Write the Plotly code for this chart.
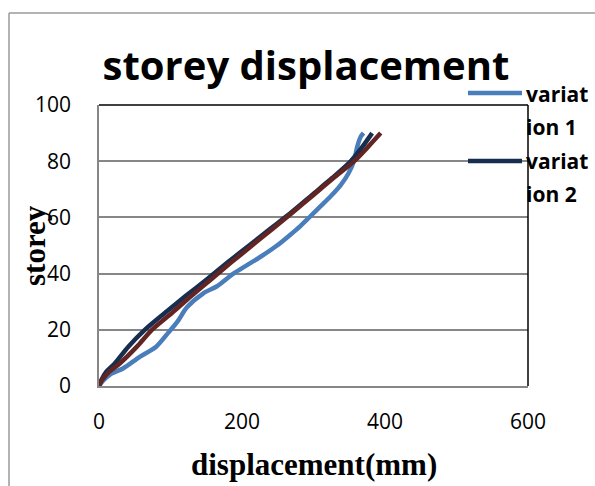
import plotly.graph_objects as go

# ---- data ----
series_names = ["variation 1", "variation 2", "variation 3"]

disp_v1 = [0, 6, 15, 34, 57, 80, 97, 110, 123, 146, 165, 188, 207, 226, 249, 266,
           282, 296, 310, 324, 338, 349, 357, 361, 366, 370]
storey_v1 = [0, 2, 4, 6.3, 10.4, 14, 19, 23, 28, 33, 35.5, 40, 43, 46, 50, 53.5,
             57, 60.5, 64, 67.5, 71.5, 75.7, 80.4, 85, 88.7, 90]

disp_v2 = [0, 3, 10, 22, 41, 64, 92, 121, 151, 180, 210, 240, 270, 298, 326, 352, 368, 382]
storey_v2 = [0, 2, 5, 8, 14, 20, 26, 32, 38, 44, 50, 56, 62, 68, 74, 80, 85, 90]

disp_v3 = [0, 4, 14, 29, 53, 74, 102, 129, 157, 185, 214, 243, 272, 300, 328, 357, 376, 394]
storey_v3 = [0, 2, 5, 8, 14, 20, 26, 32, 38, 44, 50, 56, 62, 68, 74, 80, 85, 90]

x_ticks = [0, 200, 400, 600]
y_ticks = [0, 20, 40, 60, 80, 100]

colors = ["#4A7EBB", "#172E50", "#632523"]

# ---- layout geometry ----
W, H = 595, 486
L, R, T, B = 99, 67, 105, 100
PW, PH = W - L - R, H - T - B


def px(x):
    return (x - L) / PW


def py(y):
    return (H - B - y) / PH


fig = go.Figure()
for xs, ys, c, n in zip([disp_v1, disp_v2, disp_v3],
                        [storey_v1, storey_v2, storey_v3], colors, series_names):
    fig.add_trace(go.Scatter(x=xs, y=ys, mode="lines", name=n, showlegend=False,
                             line=dict(color=c, width=4.5, shape="spline", smoothing=0.8)))

grey = "#868686"
fig.update_layout(
    width=W, height=H,
    margin=dict(l=L, r=R, t=T, b=B, autoexpand=False),
    paper_bgcolor="white", plot_bgcolor="white",
    showlegend=False,
    title=dict(text="<b>storey displacement</b>", x=306 / W, xanchor="center",
               y=1 - 66 / H, yanchor="middle", yref="container",
               font=dict(family="Open Sans", size=40, color="black")),
    xaxis=dict(range=[0, 600], tickvals=x_ticks, showgrid=False, zeroline=False,
               showline=True, linecolor=grey, linewidth=1.5, ticks="",
               ticklabelstandoff=16,
               tickfont=dict(family="Open Sans", size=21, color="black")),
    yaxis=dict(range=[0, 100], tickvals=y_ticks, showgrid=True, gridcolor=grey,
               gridwidth=1.5, zeroline=False, showline=True, linecolor=grey,
               linewidth=1.5, ticks="", ticklabelstandoff=22,
               tickfont=dict(family="Open Sans", size=21, color="black")),
)

shapes = [
    # plot-area border (top, right)
    dict(type="line", xref="paper", yref="paper", x0=0, x1=1, y0=1, y1=1,
         line=dict(color="black", width=1.5)),
    dict(type="line", xref="paper", yref="paper", x0=1, x1=1, y0=0, y1=1,
         line=dict(color="black", width=1.5)),
    # chart-area border
    dict(type="line", xref="paper", yref="paper", x0=px(9), x1=px(9), y0=py(13), y1=py(490),
         line=dict(color="#9a9a9a", width=1.5)),
    dict(type="line", xref="paper", yref="paper", x0=px(9), x1=px(600), y0=py(13), y1=py(13),
         line=dict(color="#9a9a9a", width=1.5)),
    # legend keys
    dict(type="line", xref="paper", yref="paper", x0=px(468), x1=px(522), y0=py(93), y1=py(93),
         line=dict(color=colors[0], width=4.5)),
    dict(type="line", xref="paper", yref="paper", x0=px(468), x1=px(522), y0=py(161), y1=py(161),
         line=dict(color=colors[1], width=4.5)),
]
fig.update_layout(shapes=shapes)

ann = []
leg_font = dict(family="Open Sans", size=21, color="black")
for txt, yy in [("<b>variat</b>", 94), ("<b>ion 1</b>", 127),
                ("<b>variat</b>", 161), ("<b>ion 2</b>", 194)]:
    ann.append(dict(text=txt, xref="paper", yref="paper", x=px(524), y=py(yy),
                    xanchor="left", yanchor="middle", showarrow=False, font=leg_font))
ann.append(dict(text="<b>displacement(mm)</b>", xref="paper", yref="paper",
                x=px(314), y=py(465), xanchor="center", yanchor="middle", showarrow=False,
                font=dict(family="Liberation Serif", size=31, color="black")))
ann.append(dict(text="<b>storey</b>", xref="paper", yref="paper", textangle=-90,
                x=px(34), y=py(246), xanchor="center", yanchor="middle", showarrow=False,
                font=dict(family="Liberation Serif", size=31, color="black")))
fig.update_layout(annotations=ann)

fig.write_html("out.html")
